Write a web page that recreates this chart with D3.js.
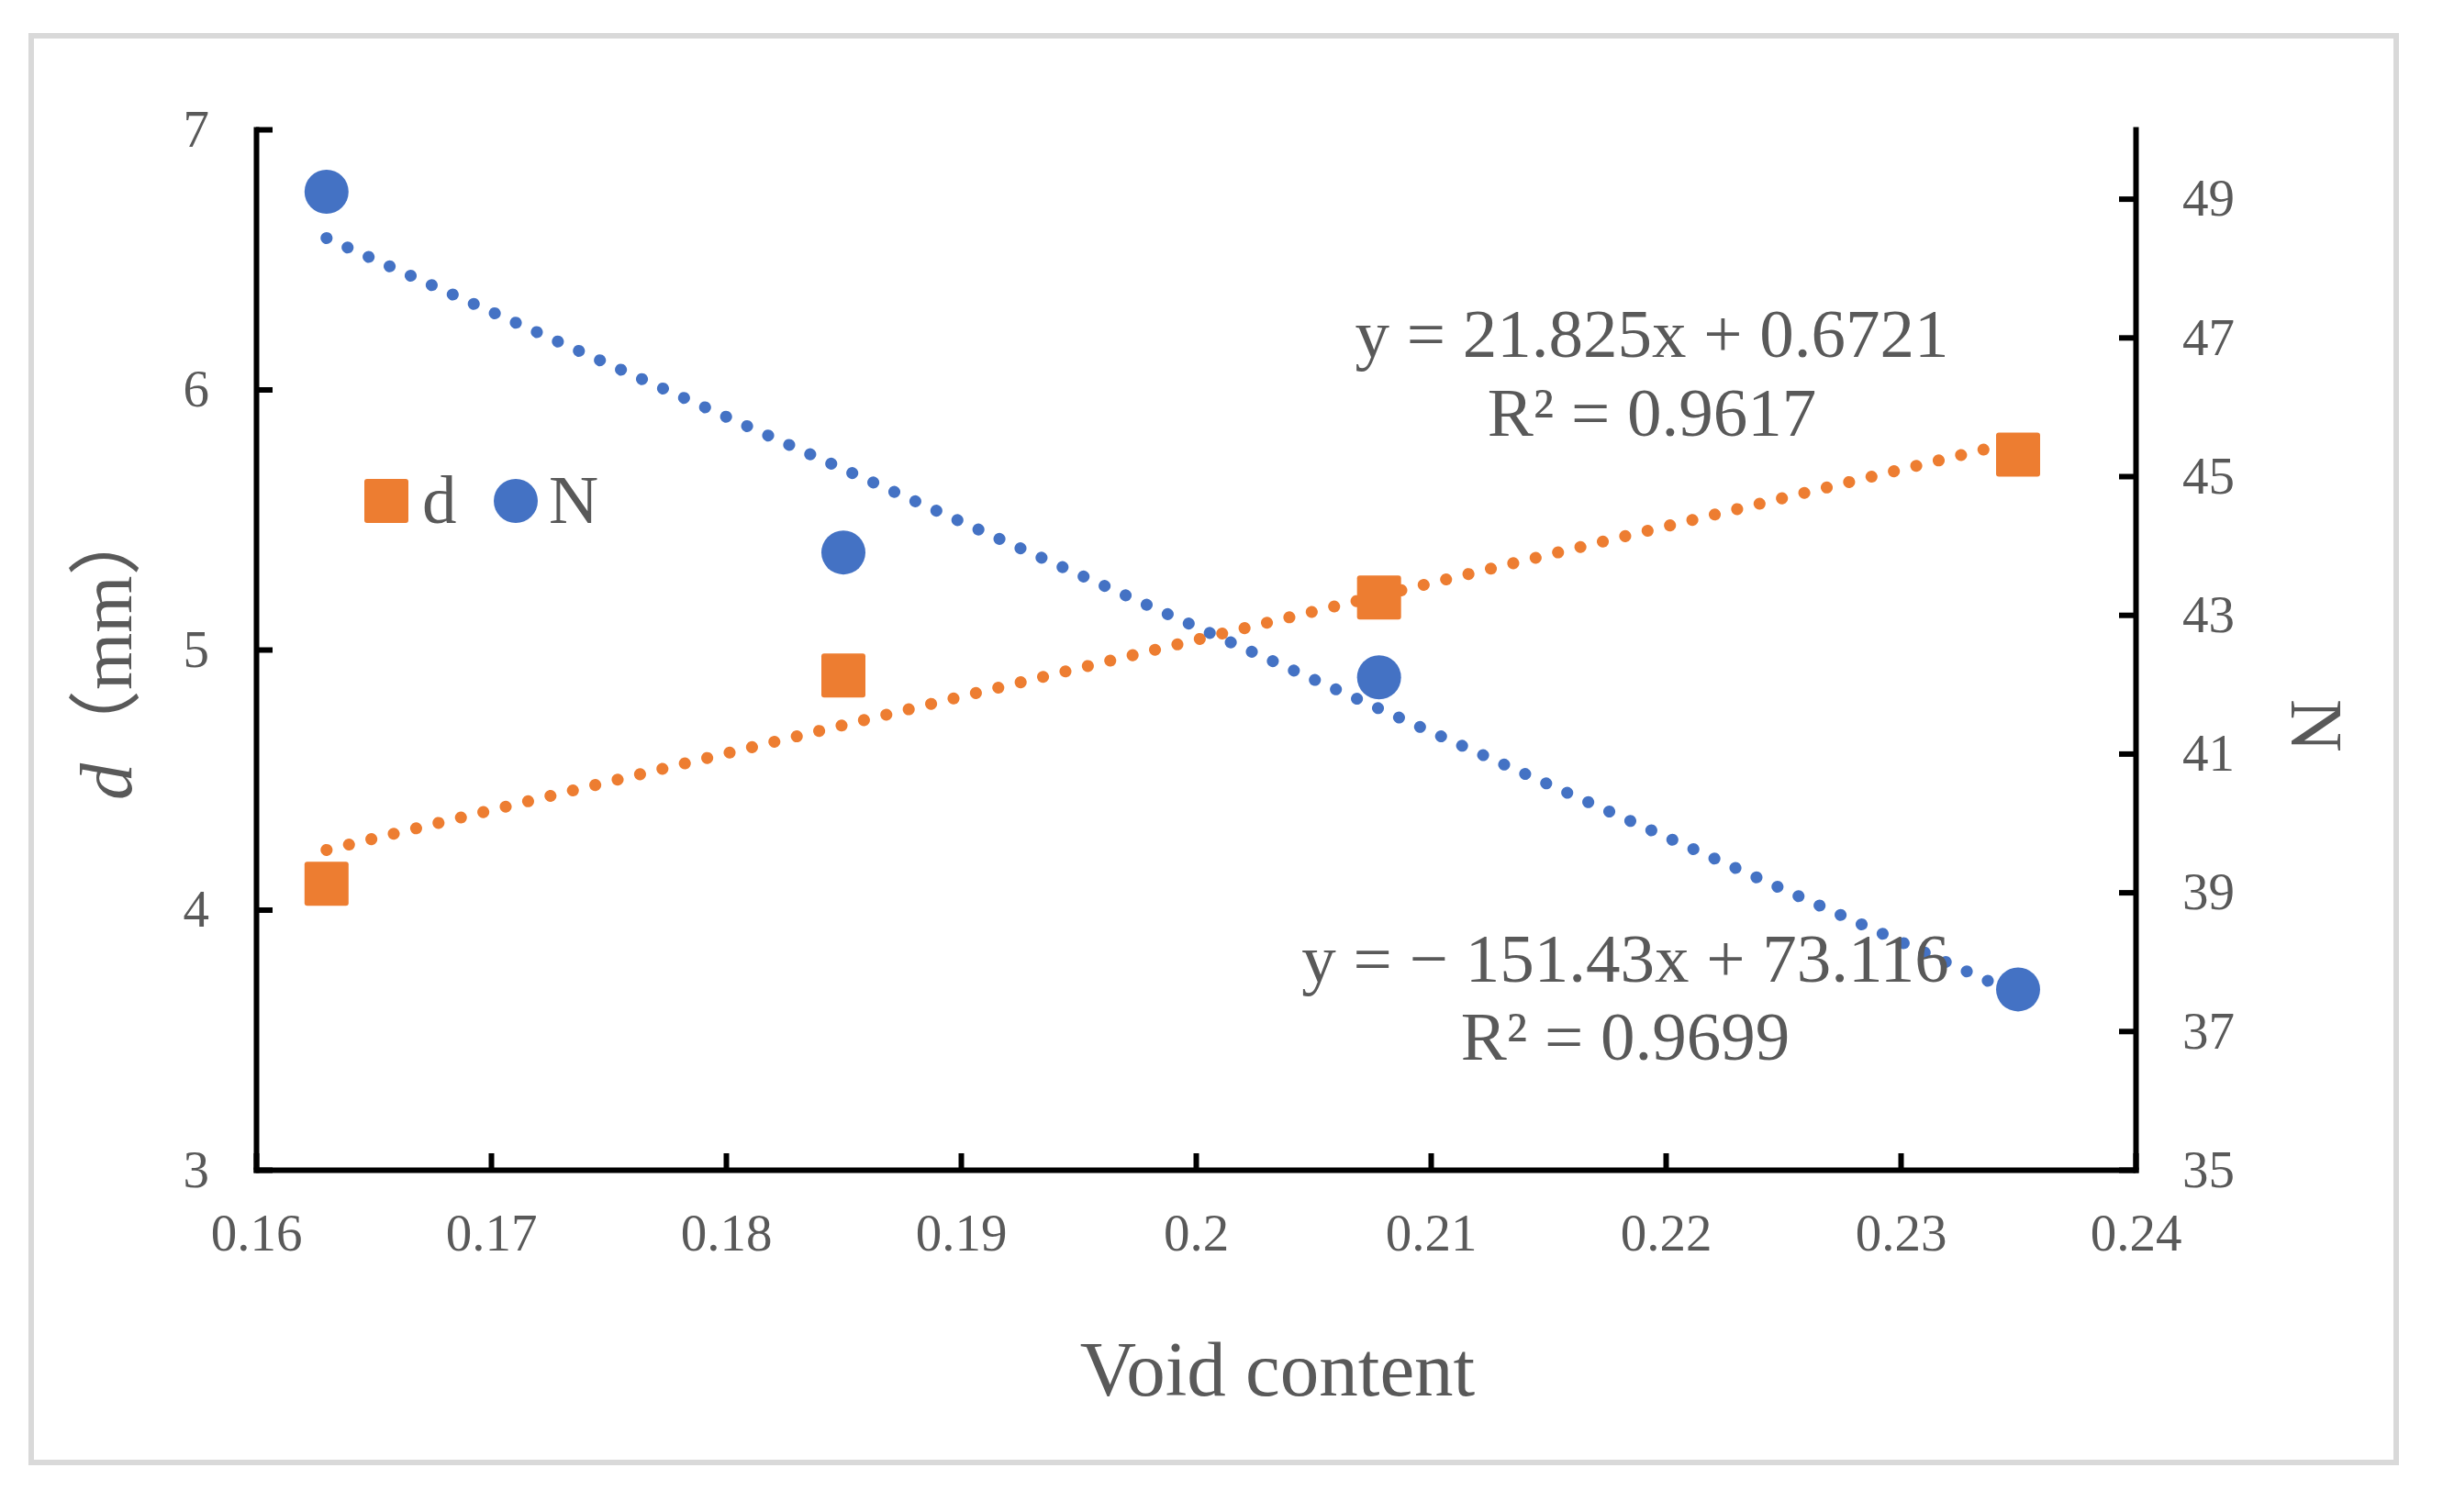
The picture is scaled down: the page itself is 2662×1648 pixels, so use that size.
<!DOCTYPE html>
<html><head><meta charset="utf-8">
<script src="https://cdn.jsdelivr.net/npm/d3@7"></script>
<style>html,body{margin:0;padding:0;background:#fff;} svg{display:block}</style>
</head><body>
<svg id="chart" width="2662" height="1648"></svg>
<script>
// ---- data ----
const voidContent = [0.163, 0.185, 0.2078, 0.235];
const dValues = [4.10, 4.90, 5.20, 5.75];
const nValues = [49.1, 43.9, 42.1, 37.6];
const xTicks = [0.16, 0.17, 0.18, 0.19, 0.2, 0.21, 0.22, 0.23, 0.24];
const xTickLabels = ["0.16", "0.17", "0.18", "0.19", "0.2", "0.21", "0.22", "0.23", "0.24"];
const dTicks = [3, 4, 5, 6, 7];
const nTicks = [35, 37, 39, 41, 43, 45, 47, 49];
const seriesNames = ["d", "N"];
const dFit = [21.825, 0.6721];
const nFit = [-151.43, 73.116];
const dEquation = ["y = 21.825x + 0.6721", "R² = 0.9617"];
const nEquation = ["y = − 151.43x + 73.116", "R² = 0.9699"];

// ---- layout ----
const ORANGE = "#ED7D31", BLUE = "#4472C4", TXT = "#595959";
const SERIF = "'Liberation Serif','Times New Roman',serif";
const L = 279, R = 2327, T = 141, B = 1275;

const svg = d3.select("#chart");
svg.append("rect").attr("width", 2662).attr("height", 1648).attr("fill", "#fff");
svg.append("rect").attr("x", 34).attr("y", 39).attr("width", 2611 - 34).attr("height", 1594 - 39)
  .attr("fill", "#fff").attr("stroke", "#d9d9d9").attr("stroke-width", 6);

const x = d3.scaleLinear().domain([0.16, 0.24]).range([L, R]);
const yL = d3.scaleLinear().domain([3, 7]).range([B, T]);
const yR = d3.scaleLinear().domain([35, 50]).range([B, T]);

function styleAxis(g) {
  g.select(".domain").attr("stroke", "#000").attr("stroke-width", 6).attr("stroke-linecap", "square");
  g.selectAll(".tick line").attr("stroke", "#000").attr("stroke-width", 6);
  g.selectAll(".tick text").attr("fill", TXT).attr("font-family", SERIF).attr("font-size", 57);
}

const gx = svg.append("g").attr("transform", `translate(0,${B})`)
  .call(d3.axisBottom(x).tickValues(xTicks).tickFormat((d, i) => xTickLabels[i])
    .tickSizeInner(-18).tickSizeOuter(0).tickPadding(48));
styleAxis(gx);

const gl = svg.append("g").attr("transform", `translate(${L},0)`)
  .call(d3.axisLeft(yL).tickValues(dTicks).tickFormat(d3.format("d"))
    .tickSizeInner(-18).tickSizeOuter(0).tickPadding(51));
styleAxis(gl);

const gr = svg.append("g").attr("transform", `translate(${R},0)`)
  .call(d3.axisRight(yR).tickValues(nTicks).tickFormat(d3.format("d"))
    .tickSizeInner(-18).tickSizeOuter(0).tickPadding(51));
styleAxis(gr);

// ---- trendlines ----
const xExt = d3.extent(voidContent);
function trend(fit, yScale, color) {
  const pts = xExt.map(v => [v, fit[0] * v + fit[1]]);
  svg.append("path")
    .attr("d", d3.line().x(p => x(p[0])).y(p => yScale(p[1]))(pts))
    .attr("fill", "none").attr("stroke", color).attr("stroke-width", 13)
    .attr("stroke-linecap", "round").attr("stroke-dasharray", "0.1 25");
}
trend(dFit, yL, ORANGE);
trend(nFit, yR, BLUE);

// ---- markers ----
const S = 48;
svg.append("g").selectAll("rect").data(voidContent).join("rect")
  .attr("x", (v) => x(v) - S / 2).attr("y", (v, i) => yL(dValues[i]) - S / 2)
  .attr("width", S).attr("height", S).attr("rx", 3).attr("fill", ORANGE);
svg.append("g").selectAll("circle").data(voidContent).join("circle")
  .attr("cx", (v) => x(v)).attr("cy", (v, i) => yR(nValues[i]))
  .attr("r", 24).attr("fill", BLUE);

// ---- equations ----
function eq(lines, cx, y0, gap) {
  lines.forEach((s, i) => {
    svg.append("text").attr("x", cx).attr("y", y0 + i * gap).attr("text-anchor", "middle")
      .attr("font-family", SERIF).attr("font-size", 75).attr("fill", TXT).text(s);
  });
}
eq(dEquation, 1800, 389, 86);
eq(nEquation, 1771, 1070, 85);

// ---- legend ----
const lg = svg.append("g").attr("font-family", SERIF).attr("font-size", 75).attr("fill", TXT);
lg.append("rect").attr("x", 421 - S / 2).attr("y", 546 - S / 2).attr("width", S).attr("height", S)
  .attr("rx", 3).attr("fill", ORANGE);
lg.append("text").attr("x", 460).attr("y", 570).text(seriesNames[0]);
lg.append("circle").attr("cx", 562).attr("cy", 546).attr("r", 24).attr("fill", BLUE);
lg.append("text").attr("x", 598).attr("y", 570).text(seriesNames[1]);

// ---- axis titles ----
svg.append("text").attr("x", 1392).attr("y", 1521).attr("text-anchor", "middle")
  .attr("font-family", SERIF).attr("font-size", 85).attr("fill", TXT).text("Void content");

const yt = svg.append("text").attr("transform", "translate(143,872) rotate(-90)")
  .attr("font-family", SERIF).attr("font-size", 80).attr("fill", TXT);
yt.append("tspan").attr("font-style", "italic").text("d");
yt.append("tspan").attr("font-family", "'Noto Sans CJK SC',sans-serif").text("（");
yt.append("tspan").text("mm");
yt.append("tspan").attr("font-family", "'Noto Sans CJK SC',sans-serif").text("）");

svg.append("text").attr("transform", "translate(2497,762) rotate(90)")
  .attr("font-family", SERIF).attr("font-size", 80).attr("fill", TXT).text("N");
</script>
</body></html>
